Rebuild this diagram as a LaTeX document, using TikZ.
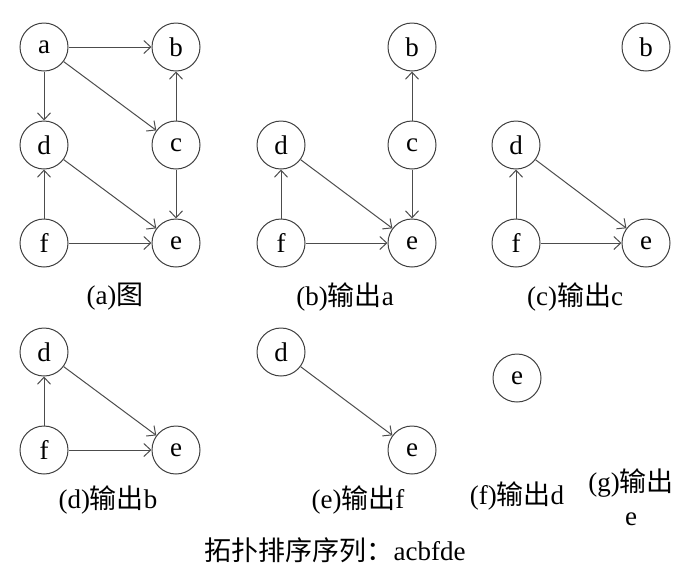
\documentclass[tikz,border=0pt]{standalone}
\usepackage{fontspec}
\setmainfont{Liberation Serif}
\newfontfamily\cjk{Noto Sans CJK SC}
\usetikzlibrary{arrows.meta}

\begin{document}
\begin{tikzpicture}[x=1pt, y=-1pt,
        vertex/.style={circle, draw=black!75, line width=1pt, minimum size=48pt, inner sep=0pt, font=\fontsize{27}{27}\selectfont},
        edge/.style={draw=black!70, line width=1pt, -{Straight Barb[length=7pt,width=13pt]}},
        caption/.style={font=\fontsize{27}{34}\selectfont, align=center}]
        \useasboundingbox (0,0) rectangle (695,574);

        % (a) graph
        \node[vertex] (aa) at (44,47) {a};
        \node[vertex] (ab) at (176,47) {b};
        \node[vertex] (ad) at (44,145) {d};
        \node[vertex] (ac) at (176,145) {c};
        \node[vertex] (af) at (44,243) {f};
        \node[vertex] (ae) at (176,243) {e};
        \draw[edge] (aa) -- (ab);
        \draw[edge] (aa) -- (ad);
        \draw[edge] (aa) -- (ac);
        \draw[edge] (ac) -- (ab);
        \draw[edge] (ac) -- (ae);
        \draw[edge] (ad) -- (ae);
        \draw[edge] (af) -- (ad);
        \draw[edge] (af) -- (ae);
        \node[caption] (capa) at (115,297) {(a){\cjk 图}};

        % (b) output a
        \node[vertex] (bb) at (412,47) {b};
        \node[vertex] (bd) at (281,145) {d};
        \node[vertex] (bc) at (412,145) {c};
        \node[vertex] (bf) at (281,243) {f};
        \node[vertex] (be) at (412,243) {e};
        \draw[edge] (bc) -- (bb);
        \draw[edge] (bc) -- (be);
        \draw[edge] (bd) -- (be);
        \draw[edge] (bf) -- (bd);
        \draw[edge] (bf) -- (be);
        \node[caption] (capb) at (345,297) {(b){\cjk 输出}a};

        % (c) output c
        \node[vertex] (cb) at (646,47) {b};
        \node[vertex] (cd) at (516,145) {d};
        \node[vertex] (cf) at (516,243) {f};
        \node[vertex] (ce) at (646,243) {e};
        \draw[edge] (cd) -- (ce);
        \draw[edge] (cf) -- (cd);
        \draw[edge] (cf) -- (ce);
        \node[caption] (capc) at (575,297) {(c){\cjk 输出}c};

        % (d) output b
        \node[vertex] (dd) at (44,352) {d};
        \node[vertex] (df) at (44,450) {f};
        \node[vertex] (de) at (176,450) {e};
        \draw[edge] (dd) -- (de);
        \draw[edge] (df) -- (dd);
        \draw[edge] (df) -- (de);
        \node[caption] (capd) at (108,500) {(d){\cjk 输出}b};

        % (e) output f
        \node[vertex] (ed) at (281,352) {d};
        \node[vertex] (ee) at (412,450) {e};
        \draw[edge] (ed) -- (ee);
        \node[caption] (cape) at (358,500) {(e){\cjk 输出}f};

        % (f) output d
        \node[vertex] (fe) at (517,378) {e};
        \node[caption] (capf) at (517,496) {(f){\cjk 输出}d};

        % (g) output e
        \node[caption] (capg) at (631,497) {(g){\cjk 输出}\\e};

        % result
        \node[caption] (seq) at (335,550) {{\cjk 拓扑排序序列：}acbfde};
\end{tikzpicture}
\end{document}
